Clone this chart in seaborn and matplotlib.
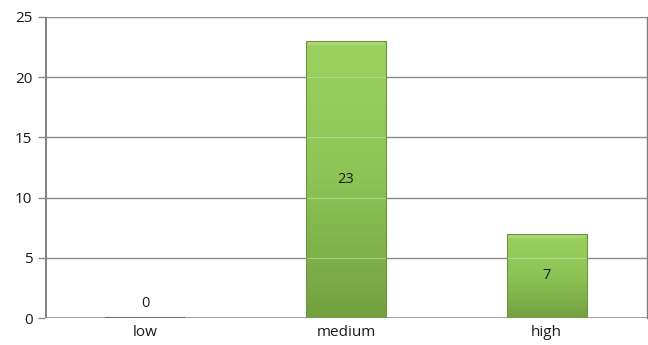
import matplotlib
matplotlib.use("Agg")
import matplotlib.pyplot as plt
import numpy as np
import pandas as pd
import seaborn as sns
from matplotlib.colors import LinearSegmentedColormap

# Counts per level
levels = ["low", "medium", "high"]
counts = [0, 23, 7]

sns.set_theme(style="white")
plt.rcParams["font.family"] = ["Open Sans", "DejaVu Sans"]

df = pd.DataFrame({"level": levels, "count": counts})

fig = plt.figure(figsize=(6.48, 3.45), dpi=100)
ax = fig.add_axes([45 / 648, 1 - 318 / 345, 602 / 648, 301 / 345])

sns.barplot(data=df, x="level", y="count", ax=ax, width=0.4,
            color="#8cc152", edgecolor="#6f9245", linewidth=0.8, zorder=2)

ax.set_ylim(0, 25)
ax.set_yticks(range(0, 26, 5))
ax.set_xlim(-0.5, 2.5)
ax.set_xlabel("")
ax.set_ylabel("")

# gridlines
for y in range(5, 26, 5):
    ax.axhline(y, color="#8c8c8c", lw=1.0, zorder=0)

# vertical green gradient with a lighter top bevel on each bar
cmap = LinearSegmentedColormap.from_list("bar", ["#74a040", "#8dc455", "#9dd15f"])
grad = np.linspace(0, 1, 256).reshape(-1, 1)
for p in ax.patches:
    x0, y0 = p.get_x(), p.get_y()
    w, h = p.get_width(), p.get_height()
    if h <= 0:
        p.set_facecolor("#6b6b6b")
        p.set_edgecolor("#6b6b6b")
        p.set_linewidth(1.5)
        continue
    im = ax.imshow(grad, extent=[x0, x0 + w, y0, y0 + h], origin="lower",
                   cmap=cmap, aspect="auto", zorder=2.5, interpolation="bicubic")
    im.set_clip_path(p)
    p.set_facecolor("none")
    p.set_zorder(3)
    # top bevel highlight
    ax.fill_between([x0 + 0.01, x0 + w - 0.01], y0 + h - 0.35, y0 + h - 0.05,
                    color="#b8e085", alpha=0.6, lw=0, zorder=2.7)
    # faint gridlines showing through the bar
    for y in range(5, 26, 5):
        if y < y0 + h:
            ax.plot([x0, x0 + w], [y, y], color="#c4e0a4", lw=0.8, alpha=0.6, zorder=2.8)

# value labels
for i, v in enumerate(counts):
    ypos = v / 2 if v > 0 else 1.2
    ax.text(i, ypos, str(v), ha="center", va="center", fontsize=10.5,
            color="#1a1a1a", zorder=4)

for side in ["top", "left", "bottom"]:
    ax.spines[side].set_visible(False)
ax.spines["right"].set_color("#7f7f7f")
ax.spines["right"].set_linewidth(1.0)
ax.axvline(-0.5, color="#7f7f7f", lw=2.0, zorder=1)
ax.axhline(0, color="#8c8c8c", lw=1.2, zorder=1)

ax.tick_params(axis="y", which="both", left=True, length=5, width=1,
               color="#8c8c8c", labelsize=11, labelcolor="#1a1a1a", pad=4)
ax.tick_params(axis="x", length=0, labelsize=11, labelcolor="#1a1a1a", pad=5)

fig.savefig("out.png", dpi=100)
